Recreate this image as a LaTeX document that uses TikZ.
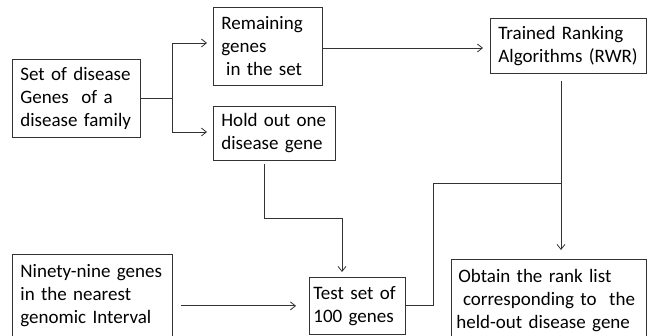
\documentclass[tikz,border=0pt]{standalone}
\usepackage{fontspec}
\setmainfont{Carlito}
\usetikzlibrary{calc,arrows.meta}

\begin{document}
\begin{tikzpicture}[x=1pt,y=-1pt]
		\tikzstyle{stage}=[draw=black!80, line width=0.8pt, rectangle, anchor=north west, align=left, inner xsep=8pt, inner ysep=0pt, font=\fontsize{19}{23}\selectfont]
		\tikzstyle{flow}=[draw=black!80, line width=0.8pt, -{Straight Barb[length=5pt,width=8pt]}]
		\useasboundingbox (0,0) rectangle (651,336);
		\clip (0,0) rectangle (651,336);
		\node[stage, text width=112pt, minimum width=128pt, minimum height=78pt] (family) at (12,59) {Set of disease\\Genes\ \ of a\\disease family};
		\node[stage, text width=93pt, minimum width=109pt, minimum height=78pt] (rest) at (213,7) {Remaining\\genes\\\hspace*{0.25em}in the set};
		\node[stage, text width=106pt, minimum width=122pt, minimum height=54pt] (holdout) at (213,106) {Hold out one\\disease gene};
		\node[stage, text width=140pt, minimum width=156pt, minimum height=55pt] (trained) at (490,18) {Trained Ranking\\Algorithms (RWR)};
		\node[stage, inner ysep=10pt, text width=144pt, minimum width=160pt] (ninety) at (12,254) {Ninety-nine genes\\in the nearest\\genomic Interval\rule[-40pt]{0pt}{40pt}};
		\node[stage, inner xsep=4pt, text width=88pt, minimum width=96pt, minimum height=57pt] (testset) at (309,277) {Test set of\\100 genes};
		\node[stage, inner xsep=5pt, inner ysep=10pt, text width=185pt, minimum width=195pt] (ranklist) at (451,259) {\hspace*{0.1em}Obtain the rank list\\\hspace*{0.35em}corresponding to\ \ the\\held-out disease gene\rule[-40pt]{0pt}{40pt}};
		\coordinate (split) at (172,98);
		\coordinate (bend) at (342,218);
		\coordinate (rise) at (433,183);
		\coordinate (merge) at (561,183);
		\draw[flow, -] (family.east |- split) -- (split);
		\draw[flow, shorten >=6pt] (split) |- (rest.west |- 0,43);
		\draw[flow, shorten >=6pt] (split) |- (holdout.west |- 0,132);
		\draw[flow, shorten >=7pt] (rest.east |- 0,48) -- (trained.west |- 0,48);
		\draw[flow, shorten <=3pt, shorten >=5pt] (holdout.south -| 264,0) |- (bend) -- (testset.north -| bend);
		\draw[flow, shorten <=8pt, shorten >=13pt] (ninety.east |- testset.west) -- (testset.west);
		\draw[flow, -] (testset.east) -| (rise) -- (merge);
		\draw[flow, shorten <=7pt, shorten >=9pt] (trained.south -| merge) -- (ranklist.north -| merge);
		\end{tikzpicture}
\end{document}
